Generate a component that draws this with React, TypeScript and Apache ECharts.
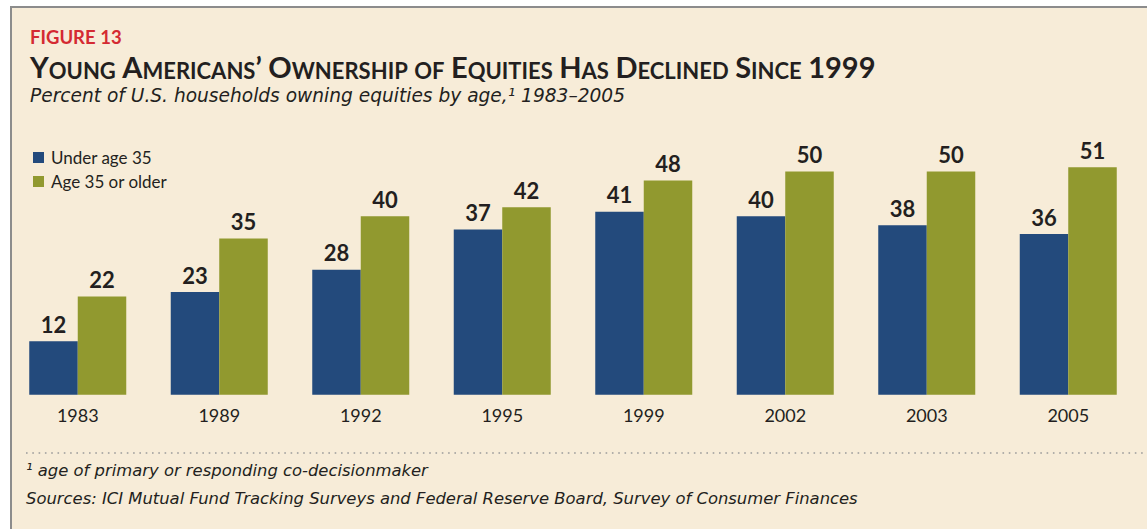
import React, { useEffect, useRef } from "react";
import * as echarts from "echarts";

const years = ["1983", "1989", "1992", "1995", "1999", "2002", "2003", "2005"];
const underAge35 = [12, 23, 28, 37, 41, 40, 38, 36];
const age35OrOlder = [22, 35, 40, 42, 48, 50, 50, 51];
const seriesNames = ["Under age 35", "Age 35 or older"];

const FONT = "Lato";
const IFONT = "DejaVu Sans";
const INK = "#231F20";
const BLUE = "#234A7C";
const GREEN = "#91992F";
const BG = "#F7ECD8";

export default function App() {
  const ref = useRef<HTMLDivElement>(null);
  useEffect(() => {
    if (!ref.current) return;
    const chart = echarts.init(ref.current, null, { renderer: "svg" });
    const labelStyle = {
      show: true,
      position: "top" as const,
      distance: 6,
      fontFamily: FONT,
      fontWeight: "bold" as const,
      fontSize: 22,
      color: INK,
    };
    chart.setOption({
      animation: false,
      backgroundColor: "#ffffff",
      textStyle: { fontFamily: FONT },
      graphic: [
        {
          type: "rect",
          z: -10,
          shape: { x: 11, y: 7, width: 1300, height: 700 },
          style: { fill: BG, stroke: "#8C8C8C", lineWidth: 2 },
          silent: true,
        },
        {
          type: "text",
          x: 30,
          y: 27,
          style: {
            text: "FIGURE 13",
            fontFamily: FONT,
            fontWeight: "bold",
            fontSize: 18.5,
            fill: "#D42A32",
          },
        },
        {
          type: "text",
          x: 30,
          y: 52,
          style: {
            text:
              "{b|Y}{s|OUNG}{w| }{b|A}{s|MERICANS}{b|’}{w| }{b|O}{s|WNERSHIP}{w| }{s|OF}{w| }{b|E}{s|QUITIES}{w| }{b|H}{s|AS}{w| }{b|D}{s|ECLINED}{w| }{b|S}{s|INCE}{w| }{b|1999}",
            fontFamily: FONT,
            fontWeight: "bold",
            fill: INK,
            rich: {
              b: { fontFamily: FONT, fontWeight: "bold", fontSize: 29, fill: INK, verticalAlign: "bottom" },
              s: { fontFamily: FONT, fontWeight: "bold", fontSize: 22, fill: INK, verticalAlign: "bottom" },
              w: { fontFamily: FONT, fontWeight: "bold", fontSize: 22, fill: INK, width: 6.5, verticalAlign: "bottom" },
            },
          },
        },
        {
          type: "text",
          x: 30,
          y: 86,
          style: {
            text: "Percent of U.S. households owning equities by age,¹ 1983–2005",
            fontFamily: IFONT,
            fontStyle: "italic",
            fontSize: 18.6,
            fill: INK,
          },
        },
        {
          type: "line",
          shape: { x1: 26, y1: 453, x2: 1147, y2: 453 },
          style: { stroke: "#9A9A9A", lineWidth: 1.6, lineDash: [1.6, 4.7] },
        },
        {
          type: "text",
          x: 26,
          y: 462,
          style: {
            text: "¹ age of primary or responding co-decisionmaker",
            fontFamily: IFONT,
            fontStyle: "italic",
            fontSize: 16.4,
            fill: INK,
          },
        },
        {
          type: "text",
          x: 26,
          y: 490,
          style: {
            text: "Sources: ICI Mutual Fund Tracking Surveys and Federal Reserve Board, Survey of Consumer Finances",
            fontFamily: IFONT,
            fontStyle: "italic",
            fontSize: 16.4,
            fill: INK,
          },
        },
      ],
      legend: {
        orient: "vertical",
        left: 28,
        top: 144,
        itemWidth: 11,
        itemHeight: 11,
        itemGap: 7,
        icon: "rect",
        textStyle: { fontFamily: FONT, fontSize: 17, color: INK, padding: [0, 0, 0, 2] },
        data: seriesNames,
      },
      grid: { left: 7, right: 8, top: 127, bottom: 134.3 },
      xAxis: {
        type: "category",
        data: years,
        axisLine: { show: false },
        axisTick: { show: false },
        axisLabel: { fontFamily: FONT, fontSize: 18, color: INK, margin: 11 },
      },
      yAxis: {
        type: "value",
        min: 0,
        max: 60,
        show: false,
        splitLine: { show: false },
      },
      series: [
        {
          name: seriesNames[0],
          type: "bar",
          data: underAge35,
          barWidth: 48.5,
          barGap: "0%",
          itemStyle: { color: BLUE },
          label: labelStyle,
        },
        {
          name: seriesNames[1],
          type: "bar",
          data: age35OrOlder,
          barWidth: 48.5,
          barGap: "0%",
          itemStyle: { color: GREEN },
          label: labelStyle,
        },
      ],
    });
    return () => chart.dispose();
  }, []);
  return (
    <div
      ref={ref}
      style={{ position: "fixed", left: 0, top: 0, width: 1147, height: 529 }}
    />
  );
}
